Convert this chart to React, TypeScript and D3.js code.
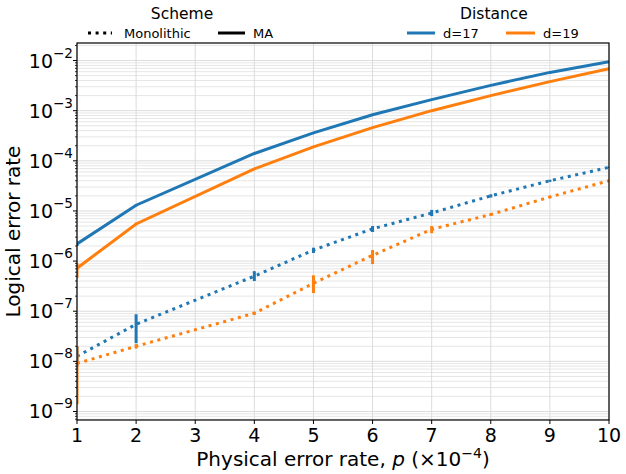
import React from "react";
import * as d3 from "d3";

// Physical error rate p (×10^-4)
const pValues = [1, 2, 4, 5, 6, 7, 8, 9, 10];

// Logical error rates
const maD17 = [2.2e-6, 1.3e-5, 1.4e-4, 3.6e-4, 8.3e-4, 1.66e-3, 3.2e-3, 5.8e-3, 9.5e-3];
const maD19 = [7.2e-7, 5.5e-6, 6.9e-5, 1.9e-4, 4.6e-4, 1.0e-3, 2.0e-3, 3.8e-3, 6.9e-3];
const monoD17 = [1.26e-8, 5.5e-8, 5.0e-7, 1.66e-6, 4.4e-6, 9.1e-6, 2.0e-5, 4.0e-5, 7.4e-5];
const monoD19 = [9.1e-9, 2.0e-8, 9.1e-8, 3.6e-7, 1.3e-6, 4.3e-6, 8.5e-6, 1.9e-5, 4.0e-5];

// Confidence intervals [low, high]
const maD17Err: [number, number][] = [
  [2.0e-6, 2.45e-6], [1.24e-5, 1.36e-5], [1.37e-4, 1.43e-4], [3.55e-4, 3.65e-4], [8.2e-4, 8.4e-4],
  [1.65e-3, 1.67e-3], [3.18e-3, 3.22e-3], [5.78e-3, 5.82e-3], [9.48e-3, 9.52e-3],
];
const maD19Err: [number, number][] = [
  [4.6e-7, 9.1e-7], [5.2e-6, 5.8e-6], [6.8e-5, 7.0e-5], [1.88e-4, 1.92e-4], [4.58e-4, 4.62e-4],
  [0.99e-3, 1.01e-3], [1.99e-3, 2.01e-3], [3.79e-3, 3.81e-3], [6.89e-3, 6.91e-3],
];
const monoD17Err: [number, number][] = [
  [7.9e-9, 2.0e-8], [2.3e-8, 8.7e-8], [4.0e-7, 6.3e-7], [1.45e-6, 1.85e-6], [3.8e-6, 5.0e-6],
  [7.9e-6, 1.05e-5], [1.85e-5, 2.15e-5], [3.8e-5, 4.2e-5], [7.2e-5, 7.6e-5],
];
const monoD19Err: [number, number][] = [
  [1.4e-9, 2.0e-8], [1.8e-8, 2.2e-8], [8.5e-8, 9.8e-8], [2.3e-7, 5.2e-7], [8.7e-7, 1.66e-6],
  [3.6e-6, 5.0e-6], [8.0e-6, 9.0e-6], [1.8e-5, 2.0e-5], [3.9e-5, 4.1e-5],
];

const xTicks = [1, 2, 3, 4, 5, 6, 7, 8, 9, 10];
const yExponents = [-9, -8, -7, -6, -5, -4, -3, -2];

const BLUE = "#1f77b4";
const ORANGE = "#ff7f0e";
const FONT = "DejaVu Sans, sans-serif";

const W = 626;
const H = 474;
const margin = { left: 77, right: 17, top: 43, bottom: 54 };

export default function App() {
  const x = d3.scaleLinear().domain([1, 10]).range([margin.left, W - margin.right]);
  const y = d3
    .scaleLog()
    .domain([Math.pow(10, -9.17), Math.pow(10, -1.65)])
    .range([H - margin.bottom, margin.top]);

  const line = d3
    .line<[number, number]>()
    .x((d) => x(d[0]))
    .y((d) => y(d[1]));

  const minorValues: number[] = [];
  for (let e = -10; e <= -1; e++) {
    for (let m = 2; m <= 9; m++) {
      const v = m * Math.pow(10, e);
      const [lo, hi] = y.domain();
      if (v > lo && v < hi) minorValues.push(v);
    }
  }
  const majorValues = yExponents.map((e) => Math.pow(10, e));

  const series = [
    { values: monoD17, err: monoD17Err, color: BLUE, dash: "3,4.6" },
    { values: monoD19, err: monoD19Err, color: ORANGE, dash: "3,4.6" },
    { values: maD17, err: maD17Err, color: BLUE, dash: undefined },
    { values: maD19, err: maD19Err, color: ORANGE, dash: undefined },
  ];

  const x0 = margin.left;
  const x1 = W - margin.right;
  const y0 = margin.top;
  const y1 = H - margin.bottom;

  return (
    <svg
      width={W}
      height={H}
      style={{ position: "absolute", left: 0, top: 0, background: "#fff" }}
      fontFamily={FONT}
    >
      <defs>
        <clipPath id="plotClip">
          <rect x={x0} y={y0} width={x1 - x0} height={y1 - y0} />
        </clipPath>
      </defs>

      {/* grid */}
      <g>
        {minorValues.map((v, i) => (
          <line key={"mn" + i} x1={x0} x2={x1} y1={y(v)} y2={y(v)} stroke="#e6e6e6" strokeWidth={1} />
        ))}
        {majorValues.map((v, i) => (
          <line key={"mj" + i} x1={x0} x2={x1} y1={y(v)} y2={y(v)} stroke="#dcdcdc" strokeWidth={1} />
        ))}
        {xTicks.map((t) => (
          <line key={"gx" + t} x1={x(t)} x2={x(t)} y1={y0} y2={y1} stroke="#dcdcdc" strokeWidth={1} />
        ))}
      </g>

      {/* data */}
      <g clipPath="url(#plotClip)">
        {series.map((s, si) => (
          <g key={si}>
            <path
              d={line(pValues.map((p, i) => [p, s.values[i]] as [number, number])) || ""}
              fill="none"
              stroke={s.color}
              strokeWidth={3}
              strokeDasharray={s.dash}
            />
            {s.err.map((e, i) => (
              <line
                key={i}
                x1={x(pValues[i])}
                x2={x(pValues[i])}
                y1={y(e[0])}
                y2={y(e[1])}
                stroke={s.color}
                strokeWidth={3}
              />
            ))}
          </g>
        ))}
      </g>

      {/* spines */}
      <rect x={x0} y={y0} width={x1 - x0} height={y1 - y0} fill="none" stroke="#000" strokeWidth={1.2} />

      {/* x axis */}
      <g>
        {xTicks.map((t) => (
          <g key={t}>
            <line x1={x(t)} x2={x(t)} y1={y1} y2={y1 + 4} stroke="#000" />
            <text x={x(t)} y={y1 + 22} textAnchor="middle" fontSize={19} fill="#000">
              {t}
            </text>
          </g>
        ))}
        <text x={(x0 + x1) / 2} y={H - 8} textAnchor="middle" fontSize={20} fill="#000">
          Physical error rate, <tspan fontStyle="italic">p</tspan> (×10
          <tspan dy={-8} fontSize={14}>−4</tspan>
          <tspan dy={8}>)</tspan>
        </text>
      </g>

      {/* y axis */}
      <g>
        {minorValues.map((v, i) => (
          <line key={i} x1={x0 - 2} x2={x0} y1={y(v)} y2={y(v)} stroke="#000" strokeWidth={0.8} />
        ))}
        {yExponents.map((e) => {
          const yy = y(Math.pow(10, e));
          return (
            <g key={e}>
              <line x1={x0 - 4} x2={x0} y1={yy} y2={yy} stroke="#000" />
              <text x={x0 - 24} y={yy + 7} textAnchor="end" fontSize={19} fill="#000">
                10
              </text>
              <text x={x0 - 24} y={yy - 3} textAnchor="start" fontSize={13.5} fill="#000">
                {"−" + Math.abs(e)}
              </text>
            </g>
          );
        })}
        <text
          transform={`translate(20,${(y0 + y1) / 2}) rotate(-90)`}
          textAnchor="middle"
          fontSize={20}
          fill="#000"
        >
          Logical error rate
        </text>
      </g>

      {/* legends */}
      <g fontSize={13} fill="#000">
        <text x={182} y={19} textAnchor="middle" fontSize={15.5}>
          Scheme
        </text>
        <line x1={88} x2={112} y1={33} y2={33} stroke="#000" strokeWidth={3} strokeDasharray="3,4.6" />
        <text x={124} y={38}>Monolithic</text>
        <line x1={218} x2={245} y1={33} y2={33} stroke="#000" strokeWidth={3} />
        <text x={253} y={38}>MA</text>

        <text x={494} y={19} textAnchor="middle" fontSize={15.5}>
          Distance
        </text>
        <line x1={407} x2={435} y1={33} y2={33} stroke={BLUE} strokeWidth={3} />
        <text x={443} y={38}>d=17</text>
        <line x1={506} x2={535} y1={33} y2={33} stroke={ORANGE} strokeWidth={3} />
        <text x={543} y={38}>d=19</text>
      </g>
    </svg>
  );
}
